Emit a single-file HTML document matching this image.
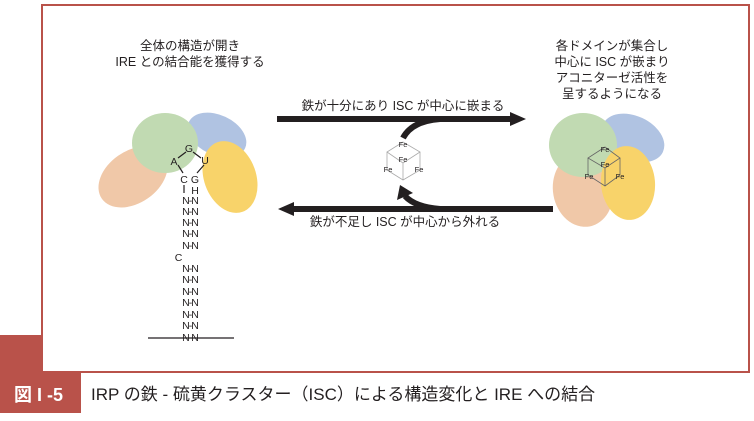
<!DOCTYPE html>
<html><head><meta charset="utf-8"><style>
body{margin:0;background:#fff;width:754px;height:416px;overflow:hidden}
text{font-family:"Liberation Sans","Noto Sans CJK JP",sans-serif;fill:#231f20}
</style></head><body>
<svg width="754" height="416" viewBox="0 0 754 416" xmlns="http://www.w3.org/2000/svg">
<rect x="42" y="5" width="707" height="367" fill="none" stroke="#b9524a" stroke-width="2"/>
<rect x="0" y="335" width="43" height="40" fill="#b9524a"/>
<rect x="0" y="372" width="81" height="41" fill="#b9524a"/>
<text x="14" y="401" font-size="18" font-weight="bold" style="fill:#fff">図 I -5</text>
<text x="91" y="400" font-size="17">IRP の鉄 - 硫黄クラスター（ISC）による構造変化と IRE への結合</text>

<text x="190" y="50" font-size="12.5" text-anchor="middle">全体の構造が開き</text>
<text x="190" y="66" font-size="12.5" text-anchor="middle">IRE との結合能を獲得する</text>
<text x="612" y="50" font-size="12.5" text-anchor="middle">各ドメインが集合し</text>
<text x="612" y="66" font-size="12.5" text-anchor="middle">中心に ISC が嵌まり</text>
<text x="612" y="82" font-size="12.5" text-anchor="middle">アコニターゼ活性を</text>
<text x="612" y="98" font-size="12.5" text-anchor="middle">呈するようになる</text>

<!-- left protein -->
<ellipse cx="217" cy="135" rx="31" ry="20" transform="rotate(25 217 135)" fill="#b0c3e2"/>
<ellipse cx="133" cy="177" rx="38" ry="26" transform="rotate(-35 133 177)" fill="#f0c8a8"/>
<ellipse cx="165" cy="143" rx="33" ry="30" fill="#c1dab2"/>
<ellipse cx="230" cy="177" rx="26" ry="37" transform="rotate(-20 230 177)" fill="#f8d36a"/>
<g stroke="#231f20" stroke-width="1.2" fill="none">
<path d="M178 158 L186 152 M193 152 L201 158 M178 165 L183 173 M204 165 L197 173 M184 185 L184 193"/>
<line x1="148" y1="338" x2="234" y2="338"/>
</g>
<g font-size="10.5" text-anchor="middle">
<text x="189" y="152">G</text><text x="174" y="165">A</text><text x="205" y="164">U</text>
<text x="184" y="183">C</text><text x="195" y="183">G</text><text x="195" y="194">H</text>
</g>
<g font-size="10.5" text-anchor="middle" letter-spacing="-1">
<text x="190" y="204">N-N</text><text x="190" y="215">N-N</text><text x="190" y="226">N-N</text><text x="190" y="237">N-N</text><text x="190" y="249">N-N</text>
<text x="178" y="261">C</text>
<text x="190" y="272">N-N</text><text x="190" y="283">N-N</text><text x="190" y="295">N-N</text><text x="190" y="306">N-N</text><text x="190" y="318">N-N</text><text x="190" y="329">N-N</text><text x="190" y="341">N-N</text>
</g>

<!-- arrows -->
<line x1="277" y1="119" x2="512" y2="119" stroke="#231f20" stroke-width="6"/>
<polygon points="510,112 526,119 510,126" fill="#231f20"/>
<path d="M403 138 Q412 121 440 119" stroke="#231f20" stroke-width="6" fill="none"/>
<line x1="553" y1="209" x2="292" y2="209" stroke="#231f20" stroke-width="6"/>
<polygon points="294,202 278,209 294,216" fill="#231f20"/>
<path d="M440 209 Q415 207 405 196" stroke="#231f20" stroke-width="6" fill="none"/>
<polygon points="400,185 397,200 413,193" fill="#231f20"/>
<text x="403" y="110" font-size="12.5" text-anchor="middle">鉄が十分にあり ISC が中心に嵌まる</text>
<text x="405" y="226" font-size="12.5" text-anchor="middle">鉄が不足し ISC が中心から外れる</text>

<!-- free cube -->
<g stroke="#aaa" stroke-width="0.8" fill="none">
<path d="M403 142 L387 152 L403 163 L420 152 Z M387 152 L387 170 L403 180 L420 170 L420 152 M403 163 L403 180"/>
</g>
<g font-size="7.5" text-anchor="middle">
<text x="403" y="147">Fe</text><text x="403" y="162">Fe</text><text x="388" y="172">Fe</text><text x="419" y="172">Fe</text>
</g>

<!-- right protein -->
<ellipse cx="633" cy="138" rx="33" ry="22" transform="rotate(25 633 138)" fill="#b0c3e2"/>
<ellipse cx="583" cy="190" rx="30" ry="37" transform="rotate(-10 583 190)" fill="#f0c8a8"/>
<ellipse cx="583" cy="145" rx="34" ry="32" fill="#c1dab2"/>
<ellipse cx="628" cy="183" rx="27" ry="37" transform="rotate(-5 628 183)" fill="#f8d36a"/>
<g stroke="#666" stroke-width="0.8" fill="none">
<path d="M605 147 L588 158 L605 168 L620 158 Z M588 158 L588 175 L605 186 L620 175 L620 158 M605 168 L605 186"/>
</g>
<g font-size="7.5" text-anchor="middle">
<text x="605" y="152">Fe</text><text x="605" y="167">Fe</text><text x="589" y="179">Fe</text><text x="620" y="179">Fe</text>
</g>
</svg>
</body></html>
